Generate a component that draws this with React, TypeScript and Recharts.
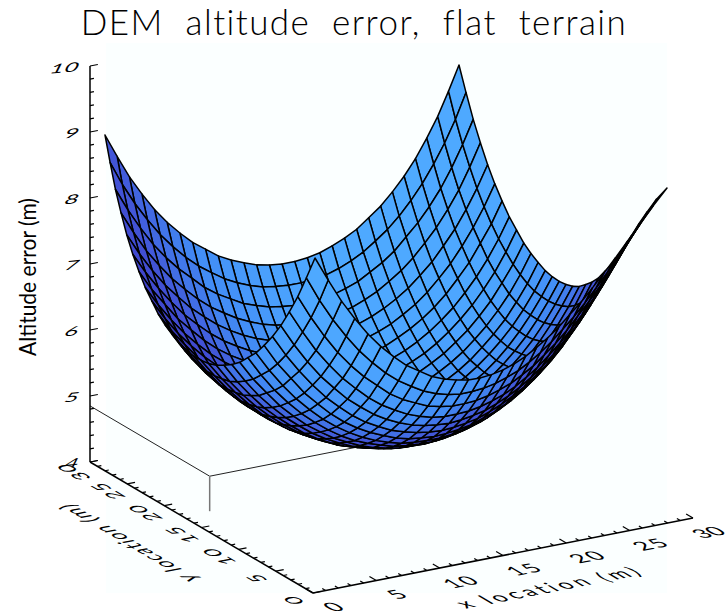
import React from 'react';
import { ScatterChart, Scatter, XAxis, YAxis } from 'recharts';

const W = 728;
const H = 615;

const chartTitle = 'DEM  altitude  error,  flat  terrain';
const xAxisTitle = 'x location (m)';
const yAxisTitle = 'y location (m)';
const zAxisTitle = 'Altitude error (m)';
const xTickLabels = [0, 5, 10, 15, 20, 25, 30];
const yTickLabels = [0, 5, 10, 15, 20, 25, 30];
const zTickLabels = [4, 5, 6, 7, 8, 9, 10];
const xMinorTicks = [1, 2, 3, 4, 6, 7, 8, 9, 11, 12, 13, 14, 16, 17, 18, 19, 21, 22, 23, 24, 26, 27, 28, 29];
const yMinorTicks = xMinorTicks;
const zMinorTicks = [4.2, 4.4, 4.6, 4.8, 5.2, 5.4, 5.6, 5.8, 6.2, 6.4, 6.6, 6.8, 7.2, 7.4, 7.6, 7.8, 8.2, 8.4, 8.6, 8.8, 9.2, 9.4, 9.6, 9.8];
const gridPositions = [0, 1.03, 2.07, 3.1, 4.14, 5.17, 6.21, 7.24, 8.28, 9.31, 10.34, 11.38, 12.41, 13.45, 14.48, 15.52, 16.55, 17.59, 18.62, 19.66, 20.69, 21.72, 22.76, 23.79, 24.83, 25.86, 26.9, 27.93, 28.97, 30];

// altitude error, by grid steps from the bowl centre along x and y
const altitudeByOffset = [
  [4.75, 4.77, 4.80, 4.84, 4.90, 4.97, 5.06, 5.17, 5.30, 5.45, 5.62, 5.81, 6.03, 6.28, 6.55],
  [4.77, 4.78, 4.81, 4.85, 4.91, 4.99, 5.08, 5.19, 5.31, 5.46, 5.63, 5.83, 6.05, 6.30, 6.57],
  [4.80, 4.81, 4.84, 4.88, 4.94, 5.01, 5.11, 5.22, 5.35, 5.50, 5.67, 5.86, 6.08, 6.33, 6.61],
  [4.84, 4.85, 4.88, 4.93, 4.99, 5.06, 5.15, 5.26, 5.39, 5.55, 5.72, 5.91, 6.14, 6.39, 6.68],
  [4.90, 4.91, 4.94, 4.99, 5.05, 5.12, 5.22, 5.33, 5.46, 5.62, 5.79, 5.99, 6.21, 6.47, 6.76],
  [4.97, 4.99, 5.01, 5.06, 5.12, 5.20, 5.30, 5.41, 5.55, 5.70, 5.88, 6.08, 6.32, 6.57, 6.86],
  [5.06, 5.08, 5.11, 5.15, 5.22, 5.30, 5.39, 5.51, 5.65, 5.81, 5.99, 6.20, 6.43, 6.70, 7.00],
  [5.17, 5.19, 5.22, 5.26, 5.33, 5.41, 5.51, 5.63, 5.77, 5.93, 6.12, 6.33, 6.57, 6.84, 7.14],
  [5.30, 5.31, 5.35, 5.39, 5.46, 5.55, 5.65, 5.77, 5.91, 6.08, 6.28, 6.49, 6.75, 7.01, 7.32],
  [5.45, 5.46, 5.50, 5.55, 5.62, 5.70, 5.81, 5.93, 6.08, 6.26, 6.45, 6.68, 6.93, 7.21, 7.52],
  [5.62, 5.63, 5.67, 5.72, 5.79, 5.88, 5.99, 6.12, 6.28, 6.45, 6.66, 6.88, 7.14, 7.43, 7.75],
  [5.81, 5.83, 5.86, 5.91, 5.99, 6.08, 6.20, 6.33, 6.49, 6.68, 6.88, 7.12, 7.38, 7.69, 8.02],
  [6.03, 6.05, 6.08, 6.14, 6.21, 6.32, 6.43, 6.57, 6.75, 6.93, 7.14, 7.38, 7.66, 7.97, 8.31],
  [6.28, 6.30, 6.33, 6.39, 6.47, 6.57, 6.70, 6.84, 7.01, 7.21, 7.43, 7.69, 7.97, 8.29, 8.65],
  [6.55, 6.57, 6.61, 6.68, 6.76, 6.86, 7.00, 7.14, 7.32, 7.52, 7.75, 8.02, 8.31, 8.65, 9.00],
];

// the three thin lines of the box behind the surface, in data units
const guideBack = [{ x: 0, y: 30, z: 4.85 }, { x: 0, y: 13.9, z: 4.85 }];
const guideRight = [{ x: 0, y: 13.9, z: 4.85 }, { x: 13, y: 13.9, z: 4.85 }];
const guideDrop = [{ x: 0, y: 13.9, z: 4.85 }, { x: 0, y: 13.9, z: 4.32 }];

const stepFromCentre = (i: number) => (i < 15 ? 14 - i : i - 15);
const altitude = (i: number, j: number) => altitudeByOffset[stepFromCentre(i)][stepFromCentre(j)];

// view transform, plot units
const O = [313, 593];
const XV = [380, -75];
const YV = [-223, -131];
const ZS = 66;
const axisPoint = (x: number, y: number, z: number) => ({
  px: O[0] + (x / 30) * XV[0] + (y / 30) * YV[0],
  py: O[1] + (x / 30) * XV[1] + (y / 30) * YV[1] - ZS * (z - 4),
});

const CORNER_ST = [[0, 0], [1, 0], [1, 1], [0, 1]];
const BASE = [[313, 593], [693, 518], [470, 392], [90, 462]];
const TOP = [[315, 258], [667, 188], [459, 65], [105, 135]];
const PERSPECTIVE = 0.2;
const BEND = [-68, -135];
const cornerDepth = (s: number, t: number, h: number) => 1 + PERSPECTIVE * (0.476 * s + 0.81 * t - 0.28 * h);
const surfacePoint = (x: number, y: number, z: number) => {
  const s = x / 30;
  const t = y / 30;
  const h = (z - 4) / 5;
  let sx = 0;
  let sy = 0;
  let sw = 0;
  CORNER_ST.forEach(([cs, ct], k) => {
    const b = (cs ? s : 1 - s) * (ct ? t : 1 - t);
    const wb = b * (1 - h) * cornerDepth(cs, ct, 0);
    const wt = b * h * cornerDepth(cs, ct, 1);
    sx += wb * BASE[k][0] + wt * TOP[k][0];
    sy += wb * BASE[k][1] + wt * TOP[k][1];
    sw += wb + wt;
  });
  const bend = s * s * Math.pow(1 - t, 4) * (1 - h);
  return { px: sx / sw + BEND[0] * bend, py: sy / sw + BEND[1] * bend };
};

const VIEW = [-0.476, -0.81, 0.34];
const RAMP: [number, number[]][] = [
  [0, [50, 45, 170]],
  [0.2, [64, 70, 205]],
  [0.35, [66, 85, 215]],
  [0.6, [66, 140, 245]],
  [0.85, [76, 165, 255]],
  [1, [79, 170, 255]],
];
const shade = (d: number) => {
  for (let k = 1; k < RAMP.length; k++) {
    if (d <= RAMP[k][0]) {
      const f = (d - RAMP[k - 1][0]) / (RAMP[k][0] - RAMP[k - 1][0]);
      const c = RAMP[k - 1][1].map((v, m) => Math.round(v + (RAMP[k][1][m] - v) * f));
      return `rgb(${c[0]},${c[1]},${c[2]})`;
    }
  }
  return 'rgb(79,170,255)';
};

const quads: { color: string; depth: number; corners: { px: number; py: number }[] }[] = [];
for (let i = 0; i < gridPositions.length - 1; i++) {
  for (let j = 0; j < gridPositions.length - 1; j++) {
    const ids = [[i, j], [i + 1, j], [i + 1, j + 1], [i, j + 1]];
    const corners = ids.map(([a, b]) => surfacePoint(gridPositions[a], gridPositions[b], altitude(a, b)));
    const step = gridPositions[i + 1] - gridPositions[i];
    const stepY = gridPositions[j + 1] - gridPositions[j];
    const zx = (altitude(i + 1, j) + altitude(i + 1, j + 1) - altitude(i, j) - altitude(i, j + 1)) / 2 / step;
    const zy = (altitude(i, j + 1) + altitude(i + 1, j + 1) - altitude(i, j) - altitude(i + 1, j)) / 2 / stepY;
    const n = [-5 * zx, -5 * zy, 1];
    const len = Math.hypot(n[0], n[1], n[2]);
    const dot = (n[0] * VIEW[0] + n[1] * VIEW[1] + n[2] * VIEW[2]) / len;
    const zm = (altitude(i, j) + altitude(i + 1, j) + altitude(i + 1, j + 1) + altitude(i, j + 1)) / 4;
    const depth = ((gridPositions[i] + step / 2) / 30) * VIEW[0] + ((gridPositions[j] + stepY / 2) / 30) * VIEW[1] + ((zm - 4) / 6) * VIEW[2];
    quads.push({ color: shade(dot < 0 ? -dot * 1.35 : dot), depth, corners });
  }
}
quads.sort((a, b) => a.depth - b.depth);
const surfaceData = quads.flatMap((q) => q.corners);

const hershey = 'Lato, "Open Sans", sans-serif';
const nothing = () => null;

const backgroundLine = (p: any) => {
  const [a, b] = p.points;
  return <rect x={a.x} y={a.y} width={b.x - a.x} height={b.y - a.y} fill="#fbffff" />;
};
const surfaceLine = (p: any) => (
  <g>
    {quads.map((q, k) => {
      const pts = p.points.slice(k * 4, k * 4 + 4).map((o: any) => `${o.x},${o.y}`).join(' ');
      return <polygon key={k} points={pts} fill={q.color} stroke="#000" strokeWidth={1.5} strokeLinejoin="round" />;
    })}
  </g>
);
const straight = (stroke: string, width: number) => (p: any) => (
  <polyline points={p.points.map((o: any) => `${o.x},${o.y}`).join(' ')} fill="none" stroke={stroke} strokeWidth={width} />
);

const tickShape = (dx: number, dy: number) => (p: any) => {
  const l = p.payload.major ? 8 : 4;
  return <line x1={p.cx} y1={p.cy} x2={p.cx + dx * l} y2={p.cy + dy * l} stroke="#000" strokeWidth={1.2} />;
};

const textShape = (m: number[], size: number, anchor: string = 'middle', weight: number = 300) => (p: any) => (
  <text
    transform={`matrix(${m[0]} ${m[1]} ${m[2]} ${m[3]} ${p.cx} ${p.cy})`}
    fontFamily={hershey}
    fontSize={size}
    fontWeight={weight}
    textAnchor={anchor}
    dominantBaseline="central"
    fill="#000"
    letterSpacing={p.payload.spacing ?? 0}
    style={{ whiteSpace: 'pre' }}
  >
    {p.payload.label}
  </text>
);

const withTicks = (vals: number[], major: boolean, fn: (v: number) => { px: number; py: number }) =>
  vals.map((v) => ({ ...fn(v), major }));

const xTicks = [...withTicks(xTickLabels, true, (v) => axisPoint(v, 0, 4)), ...withTicks(xMinorTicks, false, (v) => axisPoint(v, 0, 4))];
const yTicks = [...withTicks(yTickLabels, true, (v) => axisPoint(0, v, 4)), ...withTicks(yMinorTicks, false, (v) => axisPoint(0, v, 4))];
const zTicks = [...withTicks(zTickLabels, true, (v) => axisPoint(0, 30, v)), ...withTicks(zMinorTicks, false, (v) => axisPoint(0, 30, v))];

const xLabels = xTickLabels.map((v) => {
  const p = axisPoint(v, 0, 4);
  const last = v === 30;
  return { px: p.px + (last ? 15 : 21), py: p.py + (last ? 14 : 13.5), label: String(v), spacing: last ? 0 : 2 };
});
const yLabels = yTickLabels.map((v) => {
  const p = axisPoint(0, v, 4);
  const last = v === 30;
  return { px: p.px - (last ? 18 : 21), py: p.py + (last ? 10 : 7), label: String(v), spacing: 2 };
});
const zLabels = zTickLabels.map((v) => {
  const p = axisPoint(0, 30, v);
  return { px: p.px - 10, py: p.py, label: String(v), spacing: 1 };
});

const XM = [0.98, -0.19, 0.8, 0.47];
const YM = [-0.86, -0.51, 0.8, -0.16];
const XTM = [0.98, -0.19, 0.86, 0.51];
const YTM = [-0.86, -0.51, 0.98, -0.19];
const ZM = [1.05, -0.1, -0.3, 0.6];

const Layer = (props: any) => <Scatter isAnimationActive={false} shape={nothing} {...props} />;

export default function App() {
  return (
    <div style={{ position: 'absolute', left: 0, top: 0, width: W, height: H }}>
      <ScatterChart width={W} height={H} margin={{ top: 0, right: 0, bottom: 0, left: 0 }}>
        <XAxis type="number" dataKey="px" domain={[0, W]} hide allowDataOverflow />
        <YAxis type="number" dataKey="py" domain={[0, H]} reversed hide allowDataOverflow />
        {Layer({ key: 'bg', data: [{ px: 106, py: 43 }, { px: 667, py: 593 }], line: backgroundLine })}
        {Layer({ key: 'g1', data: guideBack.map((p) => axisPoint(p.x, p.y, p.z)), line: straight('#222', 1) })}
        {Layer({ key: 'g2', data: guideRight.map((p) => axisPoint(p.x, p.y, p.z)), line: straight('#222', 1) })}
        {Layer({ key: 'g3', data: guideDrop.map((p) => axisPoint(p.x, p.y, p.z)), line: straight('#777', 1.5) })}
        {Layer({ key: 'surface', data: surfaceData, line: surfaceLine })}
        {Layer({ key: 'xa', data: [axisPoint(0, 0, 4), axisPoint(30, 0, 4)], line: straight('#000', 1.5) })}
        {Layer({ key: 'ya', data: [axisPoint(0, 0, 4), axisPoint(0, 30, 4)], line: straight('#000', 1.5) })}
        {Layer({ key: 'za', data: [axisPoint(0, 30, 4), axisPoint(0, 30, 10)], line: straight('#000', 1.5) })}
        {Layer({ key: 'xt', data: xTicks, shape: tickShape(-0.86, -0.51) })}
        {Layer({ key: 'yt', data: yTicks, shape: tickShape(0.98, -0.19) })}
        {Layer({ key: 'zt', data: zTicks, shape: tickShape(0.98, -0.19) })}
        {Layer({ key: 'xl', data: xLabels, shape: textShape(XM, 23, 'middle', 400) })}
        {Layer({ key: 'yl', data: yLabels, shape: textShape(YM, 23, 'middle', 400) })}
        {Layer({ key: 'zl', data: zLabels, shape: textShape(ZM, 22, 'end', 400) })}
        {Layer({ key: 'xtitle', data: [{ px: 549, py: 587, label: xAxisTitle, spacing: 4 }], shape: textShape(XTM, 22, 'middle', 400) })}
        {Layer({ key: 'ytitle', data: [{ px: 127, py: 543, label: yAxisTitle, spacing: 1.6 }], shape: textShape(YTM, 22, 'middle', 400) })}
        {Layer({ key: 'ztitle', data: [{ px: 27, py: 277, label: zAxisTitle }], shape: textShape([0, -1.05, 1.15, 0], 20, 'middle', 400) })}
        {Layer({ key: 'title', data: [{ px: 354, py: 21, label: chartTitle, spacing: 1.43 }], shape: textShape([1, 0, 0, 1], 35, 'middle', 300) })}
      </ScatterChart>
    </div>
  );
}
